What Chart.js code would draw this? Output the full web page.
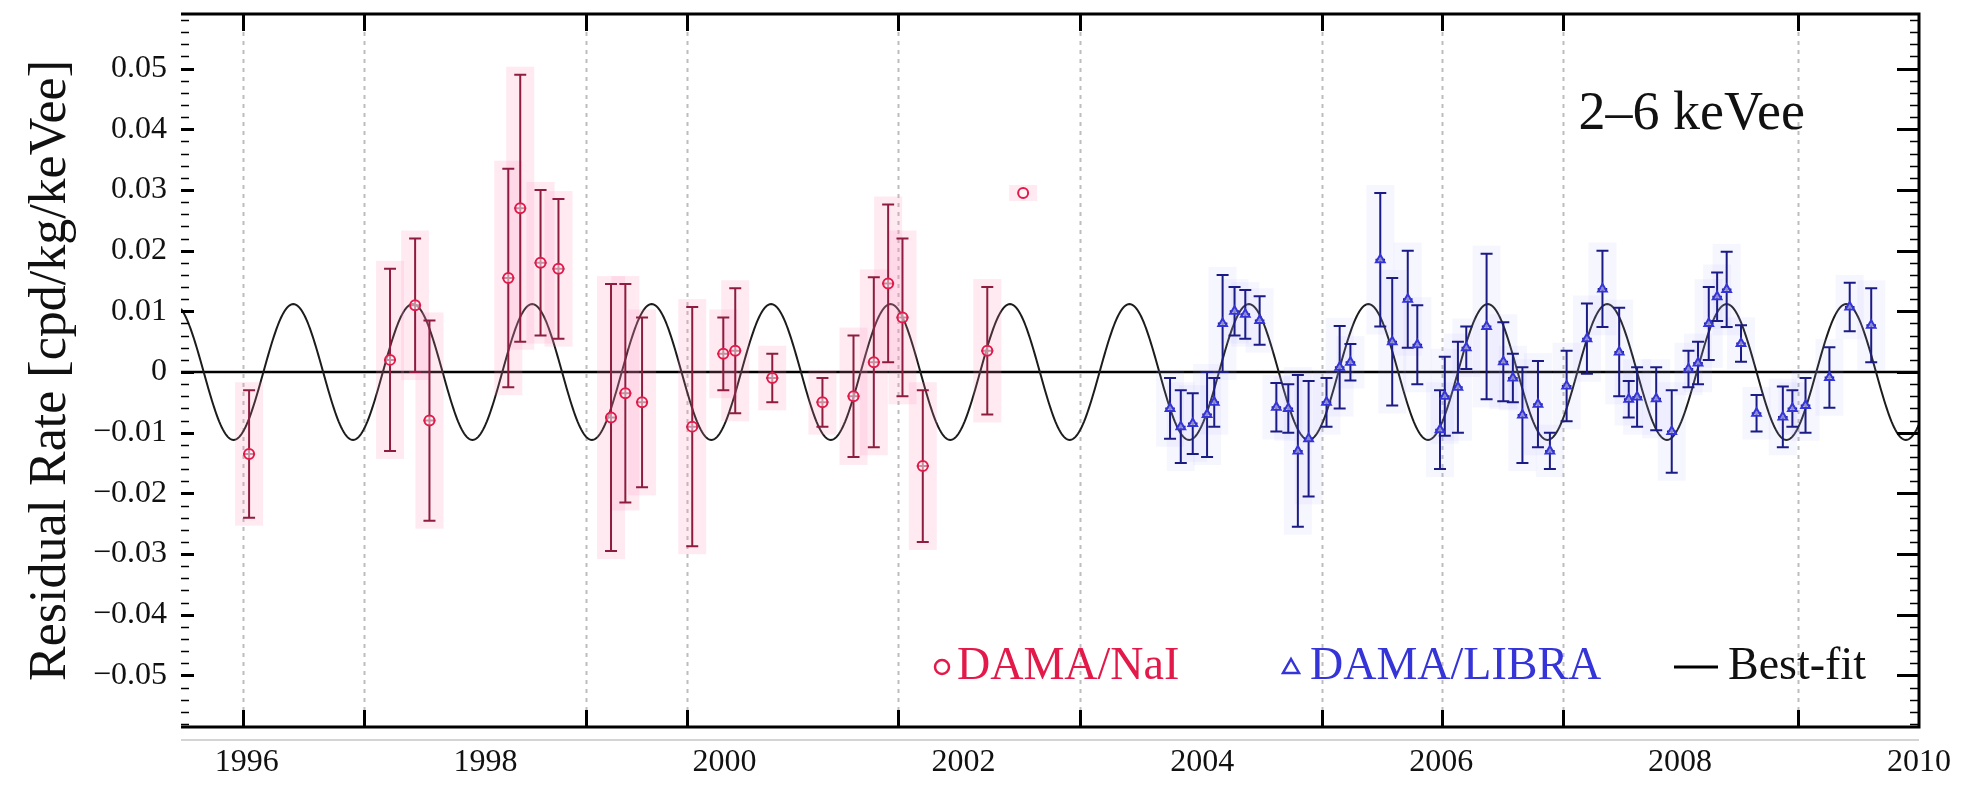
<!DOCTYPE html>
<html lang="en">
<head>
<meta charset="UTF-8">
<title>Residual Rate 2-6 keVee — DAMA/NaI + DAMA/LIBRA</title>
<script src="https://cdn.jsdelivr.net/npm/chart.js@4.4.0/dist/chart.umd.min.js"></script>
<style>
*{box-sizing:border-box;margin:0;padding:0}
html,body{background:#fff;width:1966px;height:789px;overflow:hidden}
.cw{position:relative;width:1966px;height:789px}
</style>
</head>
<body>
<div class="cw"><canvas id="resid"></canvas></div>
<script>
// DAMA/NaI residuals: time (year), rate (cpd/kg/keVee), 1-sigma error
const naiTime = [1996.02, 1997.20, 1997.41, 1997.53, 1998.19, 1998.29, 1998.46, 1998.61,
  1999.05, 1999.17, 1999.31, 1999.73, 1999.99, 2000.09, 2000.40, 2000.82,
  2001.08, 2001.25, 2001.37, 2001.49, 2001.66, 2002.20, 2002.50];
const naiRate = [-0.0135, 0.0020, 0.0110, -0.0080, 0.0155, 0.0270, 0.0180, 0.0170,
  -0.0075, -0.0035, -0.0050, -0.0090, 0.0030, 0.0035, -0.0010, -0.0050,
  -0.0040, 0.0016, 0.0146, 0.0090, -0.0155, 0.0035, 0.0295];
const naiErr = [0.0105, 0.0150, 0.0110, 0.0165, 0.0180, 0.0220, 0.0120, 0.0115,
  0.0220, 0.0180, 0.0140, 0.0197, 0.0060, 0.0103, 0.0040, 0.0040,
  0.0100, 0.0140, 0.0130, 0.0130, 0.0125, 0.0105, 0];
const naiBin = 0.05;

// DAMA/LIBRA residuals
const libraTime = [2003.73, 2003.82, 2003.92, 2004.04, 2004.10, 2004.17, 2004.27, 2004.36,
  2004.48, 2004.62, 2004.72, 2004.80, 2004.89, 2005.04, 2005.15, 2005.24,
  2005.49, 2005.59, 2005.72, 2005.80, 2005.99, 2006.03, 2006.14, 2006.21,
  2006.38, 2006.52, 2006.60, 2006.68, 2006.81, 2006.91, 2007.05, 2007.22,
  2007.35, 2007.49, 2007.57, 2007.64, 2007.80, 2007.93, 2008.07, 2008.15,
  2008.24, 2008.31, 2008.39, 2008.51, 2008.64, 2008.86, 2008.94, 2009.05,
  2009.25, 2009.42, 2009.60];
const libraRate = [-0.0060, -0.0090, -0.0085, -0.0070, -0.0050, 0.0080, 0.0100, 0.0095,
  0.0085, -0.0058, -0.0060, -0.0130, -0.0110, -0.0050, 0.0008, 0.0016,
  0.0185, 0.0050, 0.0120, 0.0045, -0.0095, -0.0040, -0.0025, 0.0040,
  0.0075, 0.0017, -0.0010, -0.0071, -0.0053, -0.0130, -0.0023, 0.0055,
  0.0137, 0.0033, -0.0045, -0.0041, -0.0044, -0.0098, 0.0005, 0.0015,
  0.0080, 0.0124, 0.0136, 0.0047, -0.0068, -0.0074, -0.0060, -0.0055,
  -0.0009, 0.0107, 0.0077];
const libraErr = [0.0050, 0.0060, 0.0050, 0.0070, 0.0040, 0.0080, 0.0040, 0.0040,
  0.0040, 0.0040, 0.0040, 0.0125, 0.0095, 0.0040, 0.0068, 0.0030,
  0.0110, 0.0105, 0.0080, 0.0065, 0.0065, 0.0065, 0.0075, 0.0035,
  0.0120, 0.0065, 0.0040, 0.0079, 0.0071, 0.0030, 0.0058, 0.0058,
  0.0063, 0.0073, 0.0030, 0.0049, 0.0052, 0.0068, 0.0030, 0.0035,
  0.0060, 0.0040, 0.0062, 0.0030, 0.0030, 0.0050, 0.0030, 0.0045,
  0.0050, 0.0040, 0.0061];
const libraBin = 0.04;

// best-fit modulation A·cos(2π(t − t0)/T)
const fitAmp = 0.0112;
const fitPeriod = 1.0;
const fitPhase = 0.39;

// running-period boundaries marked on the time axis
const cycleEdges = [1995.97, 1996.98, 1998.84, 1999.69, 2001.45, 2002.98, 2005.00, 2006.01, 2007.02, 2008.99];

const xTicks = [1996, 1998, 2000, 2002, 2004, 2006, 2008, 2010];
const yTicks = [-0.05, -0.04, -0.03, -0.02, -0.01, 0, 0.01, 0.02, 0.03, 0.04, 0.05];
const xMin = 1995.45, xMax = 2010.0;
const yMin = -0.0585, yMax = 0.059;

const SERIF = "'Liberation Serif', 'DejaVu Serif', serif";
const RED = "#e3194a", RED_BAR = "#8e1c3e";
const BLUE = "#3434d8", BLUE_BAR = "#1b1b86";

const fitTime = [];
for (let t = xMin; t <= xMax + 1e-9; t += 0.01) fitTime.push(+t.toFixed(3));
const fitPts = fitTime.map(t => ({ x: t, y: fitAmp * Math.cos(2 * Math.PI * (t - fitPhase) / fitPeriod) }));

const toPts = (ts, rs) => ts.map((t, i) => ({ x: t, y: rs[i] }));

// vertical error bars with caps, time-bin bars and a soft halo, drawn under each dataset's markers
const errorBars = {
  id: "errorBars",
  beforeDatasetDraw(chart, args) {
    const ds = chart.data.datasets[args.index];
    if (!ds.errors) return;
    const { ctx, scales: { x, y } } = chart;
    ctx.save();
    ds.data.forEach((p, i) => {
      const e = ds.errors[i];
      const px = x.getPixelForValue(p.x);
      const hi = y.getPixelForValue(p.y + e), lo = y.getPixelForValue(p.y - e);
      ctx.fillStyle = ds.haze;
      ctx.fillRect(px - 14, hi - 8, 28, lo - hi + 16);
    });
    ctx.strokeStyle = ds.barColor;
    ctx.lineWidth = 2;
    ds.data.forEach((p, i) => {
      const e = ds.errors[i];
      const px = x.getPixelForValue(p.x);
      const py = y.getPixelForValue(p.y);
      const hi = y.getPixelForValue(p.y + e), lo = y.getPixelForValue(p.y - e);
      const x0 = x.getPixelForValue(p.x - ds.bin), x1 = x.getPixelForValue(p.x + ds.bin);
      ctx.beginPath();
      if (e > 0) {
        ctx.moveTo(px, hi); ctx.lineTo(px, lo);
        ctx.moveTo(px - 6, hi); ctx.lineTo(px + 6, hi);
        ctx.moveTo(px - 6, lo); ctx.lineTo(px + 6, lo);
        ctx.moveTo(x0, py); ctx.lineTo(x1, py);
      }
      ctx.stroke();
    });
    ctx.restore();
  }
};

// period boundaries and the zero line, under the data
const backdrop = {
  id: "backdrop",
  beforeDatasetsDraw(chart) {
    const { ctx, chartArea: ca, scales: { x, y } } = chart;
    ctx.save();
    ctx.strokeStyle = "#bdbdbd";
    ctx.lineWidth = 2;
    ctx.setLineDash([4, 5]);
    cycleEdges.forEach(t => {
      const px = Math.round(x.getPixelForValue(t)) + 0.5;
      ctx.beginPath(); ctx.moveTo(px, ca.top); ctx.lineTo(px, ca.bottom); ctx.stroke();
    });
    ctx.setLineDash([]);
    ctx.strokeStyle = "#000";
    ctx.lineWidth = 2.5;
    const y0 = y.getPixelForValue(0);
    ctx.beginPath(); ctx.moveTo(ca.left, y0); ctx.lineTo(ca.right, y0); ctx.stroke();
    ctx.restore();
  }
};

// frame, inward ticks, energy window label and in-plot legend
const frame = {
  id: "frame",
  afterDraw(chart) {
    const { ctx, chartArea: ca, scales: { x, y } } = chart;
    ctx.save();
    ctx.strokeStyle = "#000";
    ctx.lineWidth = 3;
    ctx.beginPath();
    ctx.moveTo(ca.left, ca.top); ctx.lineTo(ca.right, ca.top);
    ctx.lineTo(ca.right, ca.bottom); ctx.lineTo(ca.left, ca.bottom);
    ctx.stroke();
    ctx.strokeStyle = "#d4d4d4";
    ctx.lineWidth = 2;
    ctx.beginPath(); ctx.moveTo(ca.left, ca.bottom + 13); ctx.lineTo(ca.right, ca.bottom + 13); ctx.stroke();

    // y ticks on both sides: major every 0.01, minor every 0.002
    ctx.strokeStyle = "#000";
    for (let k = Math.ceil(yMin / 0.002); k <= Math.floor(yMax / 0.002); k++) {
      const major = k % 5 === 0;
      const py = Math.round(y.getPixelForValue(k * 0.002)) + 0.5;
      ctx.lineWidth = major ? 3 : 1.5;
      ctx.beginPath();
      ctx.moveTo(ca.left, py); ctx.lineTo(ca.left + (major ? 13 : 8), py);
      ctx.moveTo(ca.right, py); ctx.lineTo(ca.right - (major ? 22 : 9), py);
      ctx.stroke();
    }
    // time ticks at the period boundaries
    ctx.lineWidth = 3;
    cycleEdges.forEach(t => {
      const px = Math.round(x.getPixelForValue(t)) + 0.5;
      ctx.beginPath();
      ctx.moveTo(px, ca.top); ctx.lineTo(px, ca.top + 17);
      ctx.moveTo(px, ca.bottom); ctx.lineTo(px, ca.bottom - 17);
      ctx.stroke();
    });

    ctx.fillStyle = "#111";
    ctx.font = `54px ${SERIF}`;
    ctx.textAlign = "right";
    ctx.textBaseline = "middle";
    ctx.fillText("2\u20136 keVee", ca.right - 114, ca.top + 101);

    // legend
    const ly = ca.top + 653;
    ctx.textAlign = "left";
    ctx.font = `46px ${SERIF}`;
    ctx.lineWidth = 2.5;
    ctx.strokeStyle = RED;
    ctx.beginPath(); ctx.arc(942, ly, 7, 0, Math.PI * 2); ctx.stroke();
    ctx.fillStyle = RED;
    ctx.fillText(chart.data.datasets[1].label, 957, ly);
    ctx.strokeStyle = BLUE;
    ctx.beginPath();
    ctx.moveTo(1291, ly - 8); ctx.lineTo(1299, ly + 6); ctx.lineTo(1283, ly + 6); ctx.closePath();
    ctx.stroke();
    ctx.fillStyle = BLUE;
    ctx.fillText(chart.data.datasets[2].label, 1310, ly);
    ctx.strokeStyle = "#000";
    ctx.lineWidth = 3;
    ctx.beginPath(); ctx.moveTo(1674, ly); ctx.lineTo(1718, ly); ctx.stroke();
    ctx.fillStyle = "#111";
    ctx.fillText(chart.data.datasets[0].label, 1728, ly);
    ctx.restore();
  }
};

new Chart(document.getElementById("resid"), {
  type: "scatter",
  data: {
    datasets: [
      {
        type: "line",
        label: "Best-fit",
        data: fitPts,
        borderColor: "#1c1c1c",
        borderWidth: 2,
        pointRadius: 0,
        fill: false,
        order: 3
      },
      {
        label: "DAMA/NaI",
        data: toPts(naiTime, naiRate),
        errors: naiErr,
        bin: naiBin,
        barColor: RED_BAR,
        haze: "rgba(255,140,185,0.18)",
        pointStyle: "circle",
        pointRadius: 5,
        borderWidth: 2,
        borderColor: RED,
        backgroundColor: "rgba(255,255,255,0.5)",
        order: 1
      },
      {
        label: "DAMA/LIBRA",
        data: toPts(libraTime, libraRate),
        errors: libraErr,
        bin: libraBin,
        barColor: BLUE_BAR,
        haze: "rgba(170,170,255,0.10)",
        pointStyle: "triangle",
        pointRadius: 5,
        borderWidth: 2,
        borderColor: BLUE,
        backgroundColor: "rgba(255,255,255,0.5)",
        order: 2
      }
    ]
  },
  options: {
    responsive: true,
    maintainAspectRatio: false,
    animation: false,
    layout: { padding: { top: 14, right: 47, left: 0, bottom: 0 } },
    plugins: { legend: { display: false }, tooltip: { enabled: false } },
    scales: {
      x: {
        type: "linear",
        min: xMin, max: xMax,
        afterBuildTicks: s => { s.ticks = xTicks.map(v => ({ value: v })); },
        afterFit: s => { s.height = 62; s.paddingLeft = 0; s.paddingRight = 0; },
        grid: { display: false, drawTicks: false },
        border: { display: false },
        ticks: {
          color: "#111", padding: 16, maxRotation: 0, autoSkip: false,
          font: { family: SERIF, size: 32 },
          callback: v => String(v)
        }
      },
      y: {
        min: yMin, max: yMax,
        afterBuildTicks: s => { s.ticks = yTicks.map(v => ({ value: v })); },
        afterFit: s => { s.width = 181; s.paddingTop = 0; s.paddingBottom = 0; },
        grid: { display: false, drawTicks: false },
        border: { display: false },
        title: {
          display: true,
          text: "Residual Rate [cpd/kg/keVee]",
          color: "#111",
          font: { family: SERIF, size: 52 },
          padding: { top: 20, bottom: 0 }
        },
        ticks: {
          color: "#111", padding: 14, autoSkip: false,
          font: { family: SERIF, size: 32 },
          callback: v => Math.abs(v) < 1e-9 ? "0" : (v < 0 ? "\u2212" : "") + Math.abs(v).toFixed(2)
        }
      }
    }
  },
  plugins: [backdrop, errorBars, frame]
});
</script>
</body>
</html>
